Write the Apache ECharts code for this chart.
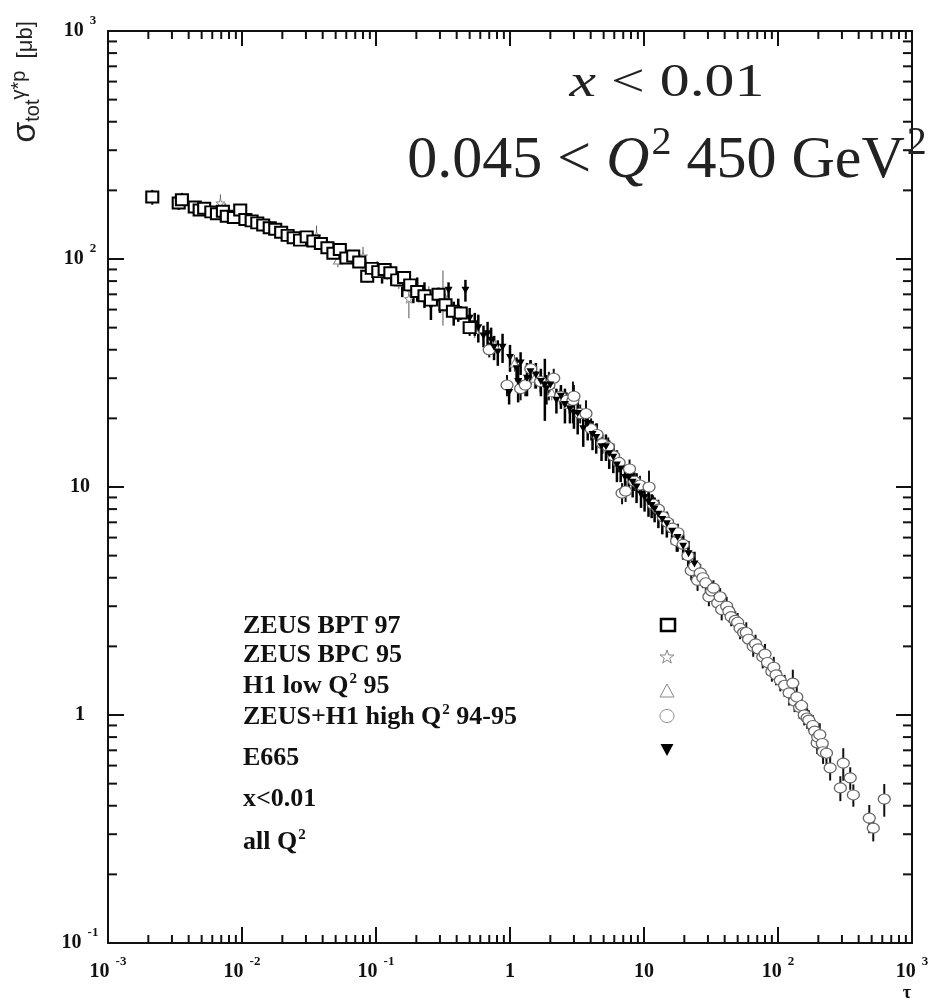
<!DOCTYPE html>
<html>
<head>
<meta charset="utf-8">
<script src="https://cdn.jsdelivr.net/npm/echarts@6/dist/echarts.min.js"></script>
<style>
  html, body { margin: 0; padding: 0; background: #fff; }
  #chart { width: 936px; height: 999px; }
</style>
</head>
<body>
<div id="chart"></div>
<script>
// sigma_tot(gamma* p) [μb] against tau: [tau, sigma, error]
const zeusBpt97 = [
  [0.00214,187,14],[0.00337,176,12],[0.00356,182,13],[0.00444,169,8],[0.00483,164,8],[0.00522,167,9],
  [0.0059,161,8],[0.0065,158,9],[0.0072,162,8],[0.0077,154,7],[0.0087,152,7],[0.0097,164,8],
  [0.0106,149,7],[0.0118,147,7],[0.0130,144,8],[0.0144,141,7],[0.0161,137,7],[0.0177,135,7],
  [0.0196,131,6],[0.0219,127,6],[0.0243,124,6],[0.0271,121,6],[0.0304,125,6],[0.0341,120,6],
  [0.0388,117,6],[0.0434,112,6],[0.0481,106,6],[0.0537,110,6],[0.0601,101,5],[0.0676,103,6],
  [0.075,97,5],[0.086,84,5],[0.093,91,5],[0.104,88,5],[0.116,90,6],[0.128,87,5],[0.144,81,5],
  [0.162,83,5],[0.180,77,5],[0.203,72,5],[0.230,69,4],[0.257,66,5],[0.293,70,5],[0.330,63,4],
  [0.375,59,4],[0.429,58,4],[0.50,50,4]
];
const zeusBpc95 = [
  [0.0069,176,16],[0.0075,168,8],[0.0092,158,7],[0.0125,146,6],[0.0163,140,6],[0.020,133,6],
  [0.0257,125,6],[0.0323,119,5],[0.036,126,14],[0.0444,114,6],[0.0565,106,6],[0.0705,98,5],
  [0.080,103,10],[0.102,93,5],[0.13,88,5],[0.176,67,12],[0.248,70,6],[0.32,64,5]
];
const h1Low95 = [
  [0.0154,138,6],[0.0229,128,6],[0.0426,115,6],[0.052,99,7],[0.064,104,6],[0.084,95,6],
  [0.121,86,5],[0.148,79,5],[0.185,75,5],[0.274,67,5],[0.316,70,19],[0.384,58,5],[0.546,49,4],
  [0.77,42,4],[1.08,35,3],[1.52,30,3],[2.05,26,2],[2.75,23,2]
];
const zeusH1High = [
  [0.70,40,3],[0.95,28,3],[1.2,27,3],[1.3,28,3],[1.43,33,3],[1.69,29,3],[1.95,28,4],[2.12,30,3],
  [2.38,25,2],[2.65,24,2],[2.95,24,5],[3.0,25,3],[3.34,21,2],[3.69,21,3],[4.03,18,2],[4.46,17,2],
  [4.9,15.5,1.5],[5.41,15,1.5],[5.92,13.7,1.5],[6.52,12.8,1.2],[6.86,9.4,1],[7.29,9.6,1],[7.8,12,1.2],
  [8.48,10.6,1],[9.33,10.2,1],[10.9,10,1.8],[11.7,8.4,0.8],[12.8,8.0,0.8],[13.9,7.4,0.7],[15.0,7.0,0.7],
  [16.3,6.6,0.6],[17.5,5.8,0.6],[17.9,6.3,0.6],[19.6,5.6,0.5],[21.3,5.0,0.5],[22.5,4.3,0.4],[23.8,4.5,0.4],
  [25.1,3.9,0.4],[26.3,4.2,0.4],[27.5,4.0,0.4],[28.9,3.8,0.4],[30.5,3.3,0.3],[32,3.5,0.35],[33,3.6,0.3],
  [35.5,3.1,0.3],[37,3.3,0.3],[38,2.9,0.3],[41.4,3.0,0.3],[43,2.85,0.3],[44.7,2.7,0.25],[48,2.6,0.25],
  [50,2.55,0.25],[52.1,2.4,0.25],[55.4,2.3,0.2],[58,2.3,0.25],[60.4,2.15,0.2],[65.3,2.0,0.2],[68,2.05,0.2],
  [71.1,1.95,0.2],[76.9,1.8,0.2],[80,1.85,0.2],[83.5,1.7,0.2],[90,1.55,0.15],[93,1.62,0.18],[96.7,1.5,0.15],
  [104,1.42,0.15],[112,1.35,0.15],[121,1.25,0.15],[129,1.38,0.2],[133,1.15,0.12],[138,1.2,0.15],
  [145,1.08,0.12],[150,1.1,0.12],[157,1.0,0.1],[165,0.97,0.1],[170,0.95,0.1],[182,0.9,0.1],
  [188,0.85,0.1],[196,0.754,0.08],[198,0.8,0.1],[205,0.82,0.1],[214,0.75,0.1],[217,0.69,0.08],
  [230,0.68,0.08],[245,0.586,0.07],[292,0.479,0.06],[307,0.615,0.1],[346,0.53,0.06],[365,0.446,0.05],
  [480,0.353,0.05],[514,0.319,0.04],[621,0.428,0.07]
];
const e665 = [
  [0.111,86,8],[0.13,84,7],[0.157,78,10],[0.19,72,8],[0.203,74,9],[0.23,70,9],[0.257,62,8],[0.30,66,8],
  [0.348,73,6],[0.38,58,7],[0.411,60,7],[0.465,73,8],[0.5,55,6],[0.546,52,6],[0.58,50,7],[0.634,46,5],
  [0.68,47,6],[0.723,44,6],[0.76,41,5],[0.811,39,5],[0.88,41,6],[0.985,26,3],[1.0,37,5],[1.12,33,4],
  [1.15,29,5.5],[1.2,35,4],[1.34,30,5],[1.42,32,4],[1.56,31,4],[1.7,29,4],[1.82,28,8.5],[1.87,27,4],
  [2.0,28,3],[2.22,24,3],[2.4,25,3],[2.57,23,4],[2.8,22,3],[3.0,21,3],[3.2,21,4],[3.52,18,3],[3.8,19,3],
  [4.13,17,2.5],[4.4,16.5,2.5],[4.82,15,2],[5.2,15,2],[5.5,14,2],[5.9,13.5,2],[6.28,12.5,2],[6.7,12,1.5],
  [7.22,11,1.5],[7.7,11,1.5],[8.23,10.5,1.5],[8.8,10,1.5],[9.5,9.3,1.2],[10.1,9.0,1.2],[10.8,8.6,1.2],
  [11.4,8.3,1],[12.0,8.0,1],[12.8,7.6,1],[13.7,7.2,1],[14.8,6.9,0.9],[16.2,6.4,0.8],[17.8,6.0,0.8],
  [19.6,5.5,0.7],[21.5,5.1,0.7],[23.8,4.6,0.6]
];

const legendNames = ['ZEUS BPT 97', 'ZEUS BPC 95', 'H1 low Q^2 95', 'ZEUS+H1 high Q^2 94-95', 'E665'];
const noteLines = ['x<0.01', 'all Q^2'];
const xTickLabels = ['10^-3', '10^-2', '10^-1', '1', '10', '10^2', '10^3'];
const yTickLabels = ['10^-1', '1', '10', '10^2', '10^3'];

const xMinorTicks = [];
for (let d = -3; d < 3; d++) for (let k = 2; k < 10; k++) xMinorTicks.push([k * Math.pow(10, d), 1]);
const yMinorTicks = [];
for (let d = -1; d < 3; d++) for (let k = 2; k < 10; k++) yMinorTicks.push([1, k * Math.pow(10, d)]);

const SERIF = '"Liberation Serif", "Times New Roman", serif';
const SANS = '"Liberation Sans", Arial, sans-serif';
const starPath = 'path://M50,0 L61,35 L98,35 L68,57 L79,91 L50,70 L21,91 L32,57 L2,35 L39,35 Z';

function toRich(s) {
  if (s.indexOf('^') < 0) return '{b|' + s + '}';
  const p = s.split('^');
  return '{b|' + p[0] + '}{sup|' + p[1] + '}';
}
function legendRich(s) {
  return s.replace(/\^(\S+)/g, '{sup|$1}').split(/(\{sup\|[^}]*\})/).map(function (part) {
    if (!part) return '';
    return part.indexOf('{sup|') === 0 ? part : '{b|' + part + '}';
  }).join('');
}

const tickRich = {
  b: { fontFamily: SERIF, fontWeight: 'bold', fontSize: 20, lineHeight: 34, color: '#111' },
  sup: { fontFamily: SERIF, fontWeight: 'bold', fontSize: 13, lineHeight: 14, padding: [0, 0, 20, 6], color: '#111' }
};

function errorBars(data, color, width) {
  return {
    type: 'custom', silent: true, z: 2, clip: false,
    data: data,
    renderItem: function (params, api) {
      const x = api.value(0), y = api.value(1), e = api.value(2);
      const lo = api.coord([x, y - e]);
      const hi = api.coord([x, y + e]);
      return { type: 'line', shape: { x1: lo[0], y1: lo[1], x2: hi[0], y2: hi[1] },
               style: { stroke: color, lineWidth: width } };
    }
  };
}

function minorTicks(data, horizontal) {
  return {
    type: 'custom', silent: true, z: 5, clip: false,
    data: data,
    renderItem: function (params, api) {
      const st = { stroke: '#111', lineWidth: 2 };
      if (horizontal) {
        const b = api.coord([api.value(0), 0.1]);
        const t = api.coord([api.value(0), 1000]);
        return { type: 'group', children: [
          { type: 'line', shape: { x1: b[0], y1: b[1], x2: b[0], y2: b[1] - 8 }, style: st },
          { type: 'line', shape: { x1: t[0], y1: t[1], x2: t[0], y2: t[1] + 8 }, style: st }
        ] };
      }
      const l = api.coord([0.001, api.value(1)]);
      const r = api.coord([1000, api.value(1)]);
      return { type: 'group', children: [
        { type: 'line', shape: { x1: l[0], y1: l[1], x2: l[0] + 9, y2: l[1] }, style: st },
        { type: 'line', shape: { x1: r[0], y1: r[1], x2: r[0] - 9, y2: r[1] }, style: st }
      ] };
    }
  };
}

function logAxis(min, max, split, pos, labels, labelOffset, showLabel) {
  return {
    type: 'log', logBase: 10, min: min, max: max, splitNumber: split, position: pos,
    axisLine: { show: true, onZero: false, lineStyle: { color: '#111', width: 2 } },
    axisTick: { show: true, inside: true, length: 16, lineStyle: { color: '#111', width: 2 } },
    splitLine: { show: false },
    axisLabel: {
      show: showLabel, showMinLabel: true, showMaxLabel: true, margin: labelOffset,
      align: 'center',
      formatter: function (v) { return toRich(labels[Math.round(Math.log10(v) - Math.log10(min))]); },
      rich: tickRich
    }
  };
}

const chart = echarts.init(document.getElementById('chart'), null, { renderer: 'canvas' });

const legendY = [626, 655, 686, 717, 758];
const legendIcons = [
  { type: 'rect', shape: { x: 661, y: 619, width: 14, height: 12 }, style: { fill: 'none', stroke: '#000', lineWidth: 2.5 } },
  { type: 'polygon', shape: { points: [[667,650],[668.7,655],[674,655],[669.8,658.2],[671.3,663],[667,660],[662.7,663],[664.2,658.2],[660,655],[665.3,655]] }, style: { fill: 'none', stroke: '#888', lineWidth: 1 } },
  { type: 'polygon', shape: { points: [[667,684],[660,697],[674,697]] }, style: { fill: 'none', stroke: '#888', lineWidth: 1 } },
  { type: 'ellipse', shape: { cx: 667, cy: 716, rx: 7, ry: 6.5 }, style: { fill: 'none', stroke: '#888', lineWidth: 1 } },
  { type: 'polygon', shape: { points: [[660.5,744],[673.5,744],[667,756]] }, style: { fill: '#000' } }
];
const legendRichStyle = {
  b: { fontFamily: SERIF, fontWeight: 'bold', fontSize: 26, lineHeight: 30, fill: '#111' },
  sup: { fontFamily: SERIF, fontWeight: 'bold', fontSize: 15, lineHeight: 15, padding: [0, 0, 13, 1], fill: '#111' }
};

const graphic = [];
legendNames.forEach(function (name, i) {
  graphic.push({ type: 'text', x: 243, y: legendY[i], style: { text: legendRich(name), rich: legendRichStyle, verticalAlign: 'middle', align: 'left' } });
});
graphic.push({ type: 'text', x: 243, y: 799, style: { text: legendRich(noteLines[0]), rich: legendRichStyle, verticalAlign: 'middle' } });
graphic.push({ type: 'text', x: 243, y: 842, style: { text: legendRich(noteLines[1]), rich: legendRichStyle, verticalAlign: 'middle' } });
legendIcons.forEach(function (g) { graphic.push(g); });

// kinematic cuts, top right
graphic.push({
  type: 'text', x: 667, y: 84, scaleX: 1.3, z: 10,
  style: {
    text: '{i|x} < 0.01', align: 'center', verticalAlign: 'middle',
    fontFamily: SERIF, fontSize: 46, fill: '#222',
    rich: { i: { fontFamily: SERIF, fontSize: 46, fontStyle: 'italic', fill: '#222' } }
  }
});
graphic.push({
  type: 'text', x: 667, y: 161, z: 10,
  style: {
    text: '{r|0.045 < }{i|Q}{sup|2}{r| 450 GeV}{sup|2}', align: 'center', verticalAlign: 'middle',
    rich: {
      r: { fontFamily: SERIF, fontSize: 60, lineHeight: 60, fill: '#222' },
      i: { fontFamily: SERIF, fontSize: 60, lineHeight: 60, fontStyle: 'italic', fill: '#222' },
      sup: { fontFamily: SERIF, fontSize: 40, lineHeight: 40, padding: [0, 0, 35, 2], fill: '#222' }
    }
  }
});
// axis titles
graphic.push({
  type: 'text', x: 26, y: 82, rotation: Math.PI / 2,
  style: {
    text: '{s|σ}{sub|tot}{sup|γ*p}{u|  [μb]}', align: 'center', verticalAlign: 'middle',
    rich: {
      s: { fontFamily: SANS, fontSize: 34, lineHeight: 34, fill: '#222' },
      sub: { fontFamily: SANS, fontSize: 20, lineHeight: 20, padding: [14, 0, 0, 0], fill: '#222' },
      sup: { fontFamily: SANS, fontSize: 20, lineHeight: 20, padding: [0, 0, 14, 0], fill: '#222' },
      u: { fontFamily: SANS, fontSize: 22, lineHeight: 22, fill: '#222' }
    }
  }
});
graphic.push({ type: 'text', x: 907, y: 993, style: { text: 'τ', align: 'center', verticalAlign: 'middle', fontFamily: SERIF, fontSize: 18, fontWeight: 'bold', fill: '#111' } });

chart.setOption({
  animation: false,
  backgroundColor: '#fff',
  grid: { left: 108, right: 24, top: 31, bottom: 56, containLabel: false, outerBoundsMode: 'none' },
  xAxis: [
    logAxis(0.001, 1000, 6, 'bottom', xTickLabels, 12, true),
    Object.assign(logAxis(0.001, 1000, 6, 'top', xTickLabels, 12, false), { axisTick: { show: true, inside: true, length: 15, lineStyle: { color: '#111', width: 2 } } })
  ],
  yAxis: [
    logAxis(0.1, 1000, 4, 'left', yTickLabels, 28, true),
    logAxis(0.1, 1000, 4, 'right', yTickLabels, 28, false)
  ],
  graphic: graphic,
  series: [
    minorTicks(xMinorTicks, true),
    minorTicks(yMinorTicks, false),
    errorBars(zeusBpc95, '#555', 1),
    errorBars(h1Low95, '#555', 1),
    errorBars(zeusH1High, '#111', 2),
    errorBars(e665, '#000', 2.5),
    errorBars(zeusBpt97, '#000', 2),
    { name: legendNames[1], type: 'scatter', z: 3, data: zeusBpc95, symbol: starPath, symbolSize: 9,
      itemStyle: { color: '#fff', borderColor: '#888', borderWidth: 1, opacity: 1 } },
    { name: legendNames[2], type: 'scatter', z: 3, data: h1Low95, symbol: 'triangle', symbolSize: [9, 8],
      itemStyle: { color: '#fff', borderColor: '#888', borderWidth: 1, opacity: 1 } },
    { name: legendNames[3], type: 'scatter', z: 3, data: zeusH1High, symbol: 'circle', symbolSize: [12, 10],
      itemStyle: { color: '#fff', borderColor: '#666', borderWidth: 1.2, opacity: 1 } },
    { name: legendNames[4], type: 'scatter', z: 3, data: e665, symbol: 'triangle', symbolRotate: 180, symbolSize: [8, 7],
      itemStyle: { color: '#000', opacity: 1 } },
    { name: legendNames[0], type: 'scatter', z: 3, data: zeusBpt97, symbol: 'rect', symbolSize: [12, 11],
      itemStyle: { color: '#fff', borderColor: '#000', borderWidth: 2, opacity: 1 } }
  ]
});
</script>
</body>
</html>
